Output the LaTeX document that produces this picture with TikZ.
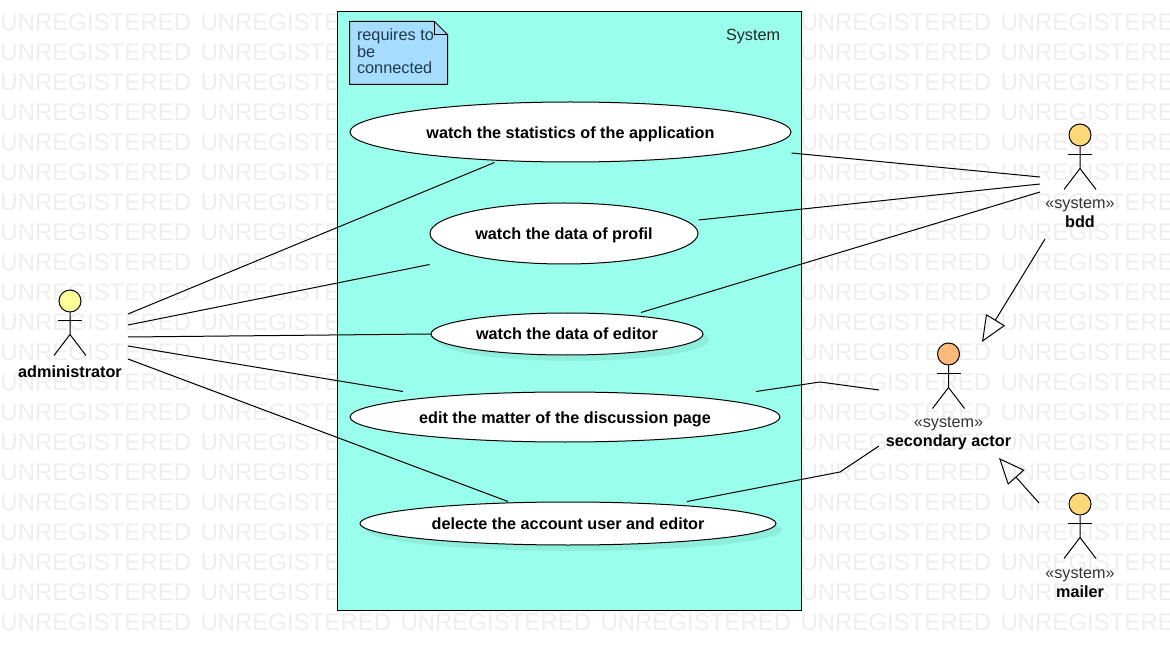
\documentclass[tikz,border=0pt]{standalone}
\usepackage{fontspec}
\setmainfont{Liberation Sans}
\usetikzlibrary{arrows.meta,shapes,shadows}

\definecolor{sysfill}{HTML}{99FFEC}
\definecolor{notefill}{HTML}{A6DDFF}
\definecolor{notetext}{HTML}{1F3A4A}
\definecolor{wmark}{HTML}{EEEEEE}
\definecolor{shadowfill}{HTML}{8EEEDC}

\begin{document}
\begin{tikzpicture}[x=1pt,y=-1pt,>=Triangle,line width=1pt]
  \tikzset{
    usecase/.style={shape=ellipse,draw,fill=white,inner sep=0pt,text height=14pt,text depth=1pt,font=\fontsize{16.2}{18}\selectfont\bfseries},
    usecaseshadow/.style={usecase,text height=12pt,drop shadow={shadow xshift=6pt,shadow yshift=-6pt,fill=shadowfill,opacity=1}},
    actorhead/.style={shape=circle,draw,minimum size=22pt,inner sep=0pt},
    actorname/.style={align=center,inner sep=0pt,text=black!80,font=\fontsize{16.2}{19}\selectfont},
    assoc/.style={draw,line width=1pt},
    general/.style={draw,-{Triangle[open,length=26pt,width=22pt,line width=1pt]}}
  }
  \useasboundingbox (0,0) rectangle (1170,660);

  % watermark
  \foreach \r in {0,...,20}
    \foreach \c in {0,...,5}
      \node[anchor=base west,inner sep=0pt,text=wmark,font=\fontsize{24}{26}\selectfont]
        (wm-\c-\r) at (200*\c,30.6+30*\r) {UNREGISTERED};

  % system box
  \node[draw,fill=sysfill,minimum width=464pt,minimum height=598pt,inner sep=0pt] (system) at (569,311) {};
  \node[inner sep=0pt,font=\fontsize{16.2}{18}\selectfont,text=black!85] (systitle) at (753,37) {System};

  % note
  \node[minimum width=97pt,minimum height=62pt,inner sep=0pt] (note) at (398.5,53) {};
  \draw[fill=notefill] (note.north west) -- ([xshift=-13pt]note.north east) -- ([yshift=-13pt]note.north east)
    -- (note.south east) -- (note.south west) -- cycle;
  \draw ([xshift=-13pt]note.north east) -- ([xshift=-13pt,yshift=-13pt]note.north east) -- ([yshift=-13pt]note.north east);
  \node[anchor=north west,align=left,inner sep=0pt,text=notetext,font=\fontsize{16.3}{16.5}\selectfont]
    (notelabel) at (356.5,28.5) {requires to\\be\\connected};

  % use cases
  \node[usecase,minimum width=441pt,minimum height=60pt] (stats) at (570.5,132) {watch the statistics of the application};
  \node[usecase,minimum width=268pt,minimum height=61pt] (profil) at (564,233.5) {watch the data of profil};
  \node[usecaseshadow,minimum width=272pt,minimum height=42pt] (editor) at (567,334) {watch the data of editor};
  \node[usecase,minimum width=430pt,minimum height=50pt] (edit) at (565,417) {edit the matter of the discussion page};
  \node[usecaseshadow,minimum width=416pt,minimum height=43pt] (delete) at (568,523.5) {delecte the account user and editor};

  % actors
  \foreach \name/\x/\y/\col in {admin/70/301/FFFF99,bdd/1080/135/FFD87A,second/948.5/354/FFB97A,mailer/1080/504/FFD87A} {
    \definecolor{headfill}{HTML}{\col}
    \node[actorhead,fill=headfill] (\name) at (\x,\y) {};
    \draw (\name.south) -- ++(0,22) -- ++(-16,21);
    \draw (\name.south) ++(0,22) -- ++(16,21);
    \draw (\name.south) ++(-12,8) -- ++(24,0);
  }
  \node[actorname,text=black,font=\fontsize{16.2}{19}\selectfont\bfseries] (adminname) at (70,372) {administrator};
  \node[actorname] (bddname) at (1080,213) {«system»\\\textcolor{black}{\bfseries bdd}};
  \node[actorname] (secondname) at (948.5,433) {«system»\\\textcolor{black}{\bfseries secondary actor}};
  \node[actorname] (mailername) at (1080,583) {«system»\\\textcolor{black}{\bfseries mailer}};

  % associations
  \draw[assoc] ([xshift=58pt,yshift=-13pt]admin.center) -- ([xshift=-76pt]stats.south);
  \draw[assoc] ([xshift=58pt,yshift=-24pt]admin.center) -- (profil.west |- profil.south);
  \draw[assoc] ([xshift=58pt,yshift=-36pt]admin.center) -- (editor.west);
  \draw[assoc] ([xshift=58pt,yshift=-45pt]admin.center) -- ([xshift=-162pt]edit.north);
  \draw[assoc] ([xshift=58pt,yshift=-58pt]admin.center) -- ([xshift=-60pt]delete.north);
  \draw[assoc] (stats.east |- 0,153) -- ([xshift=-40pt,yshift=-42pt]bdd.center);
  \draw[assoc] (profil.east |- 0,220) -- ([xshift=-40pt,yshift=-49pt]bdd.center);
  \draw[assoc] ([xshift=74pt]editor.north) -- ([xshift=-40pt,yshift=-57pt]bdd.center);
  \draw[assoc] ([xshift=191pt]edit.north) -- (820,382) -- ([xshift=-69.5pt,yshift=-36pt]second.center);
  \draw[assoc] ([xshift=119pt]delete.north) -- (840,472) -- ([xshift=-69.5pt,yshift=-92pt]second.center);

  % generalizations
  \draw[general] ([xshift=-35pt,yshift=-104pt]bdd.center) -- ([xshift=33.5pt,yshift=12pt]second.center);
  \draw[general] ([xshift=-41pt,yshift=1pt]mailer.center) -- ([xshift=50.5pt,yshift=-104pt]second.center);
\end{tikzpicture}
\end{document}
